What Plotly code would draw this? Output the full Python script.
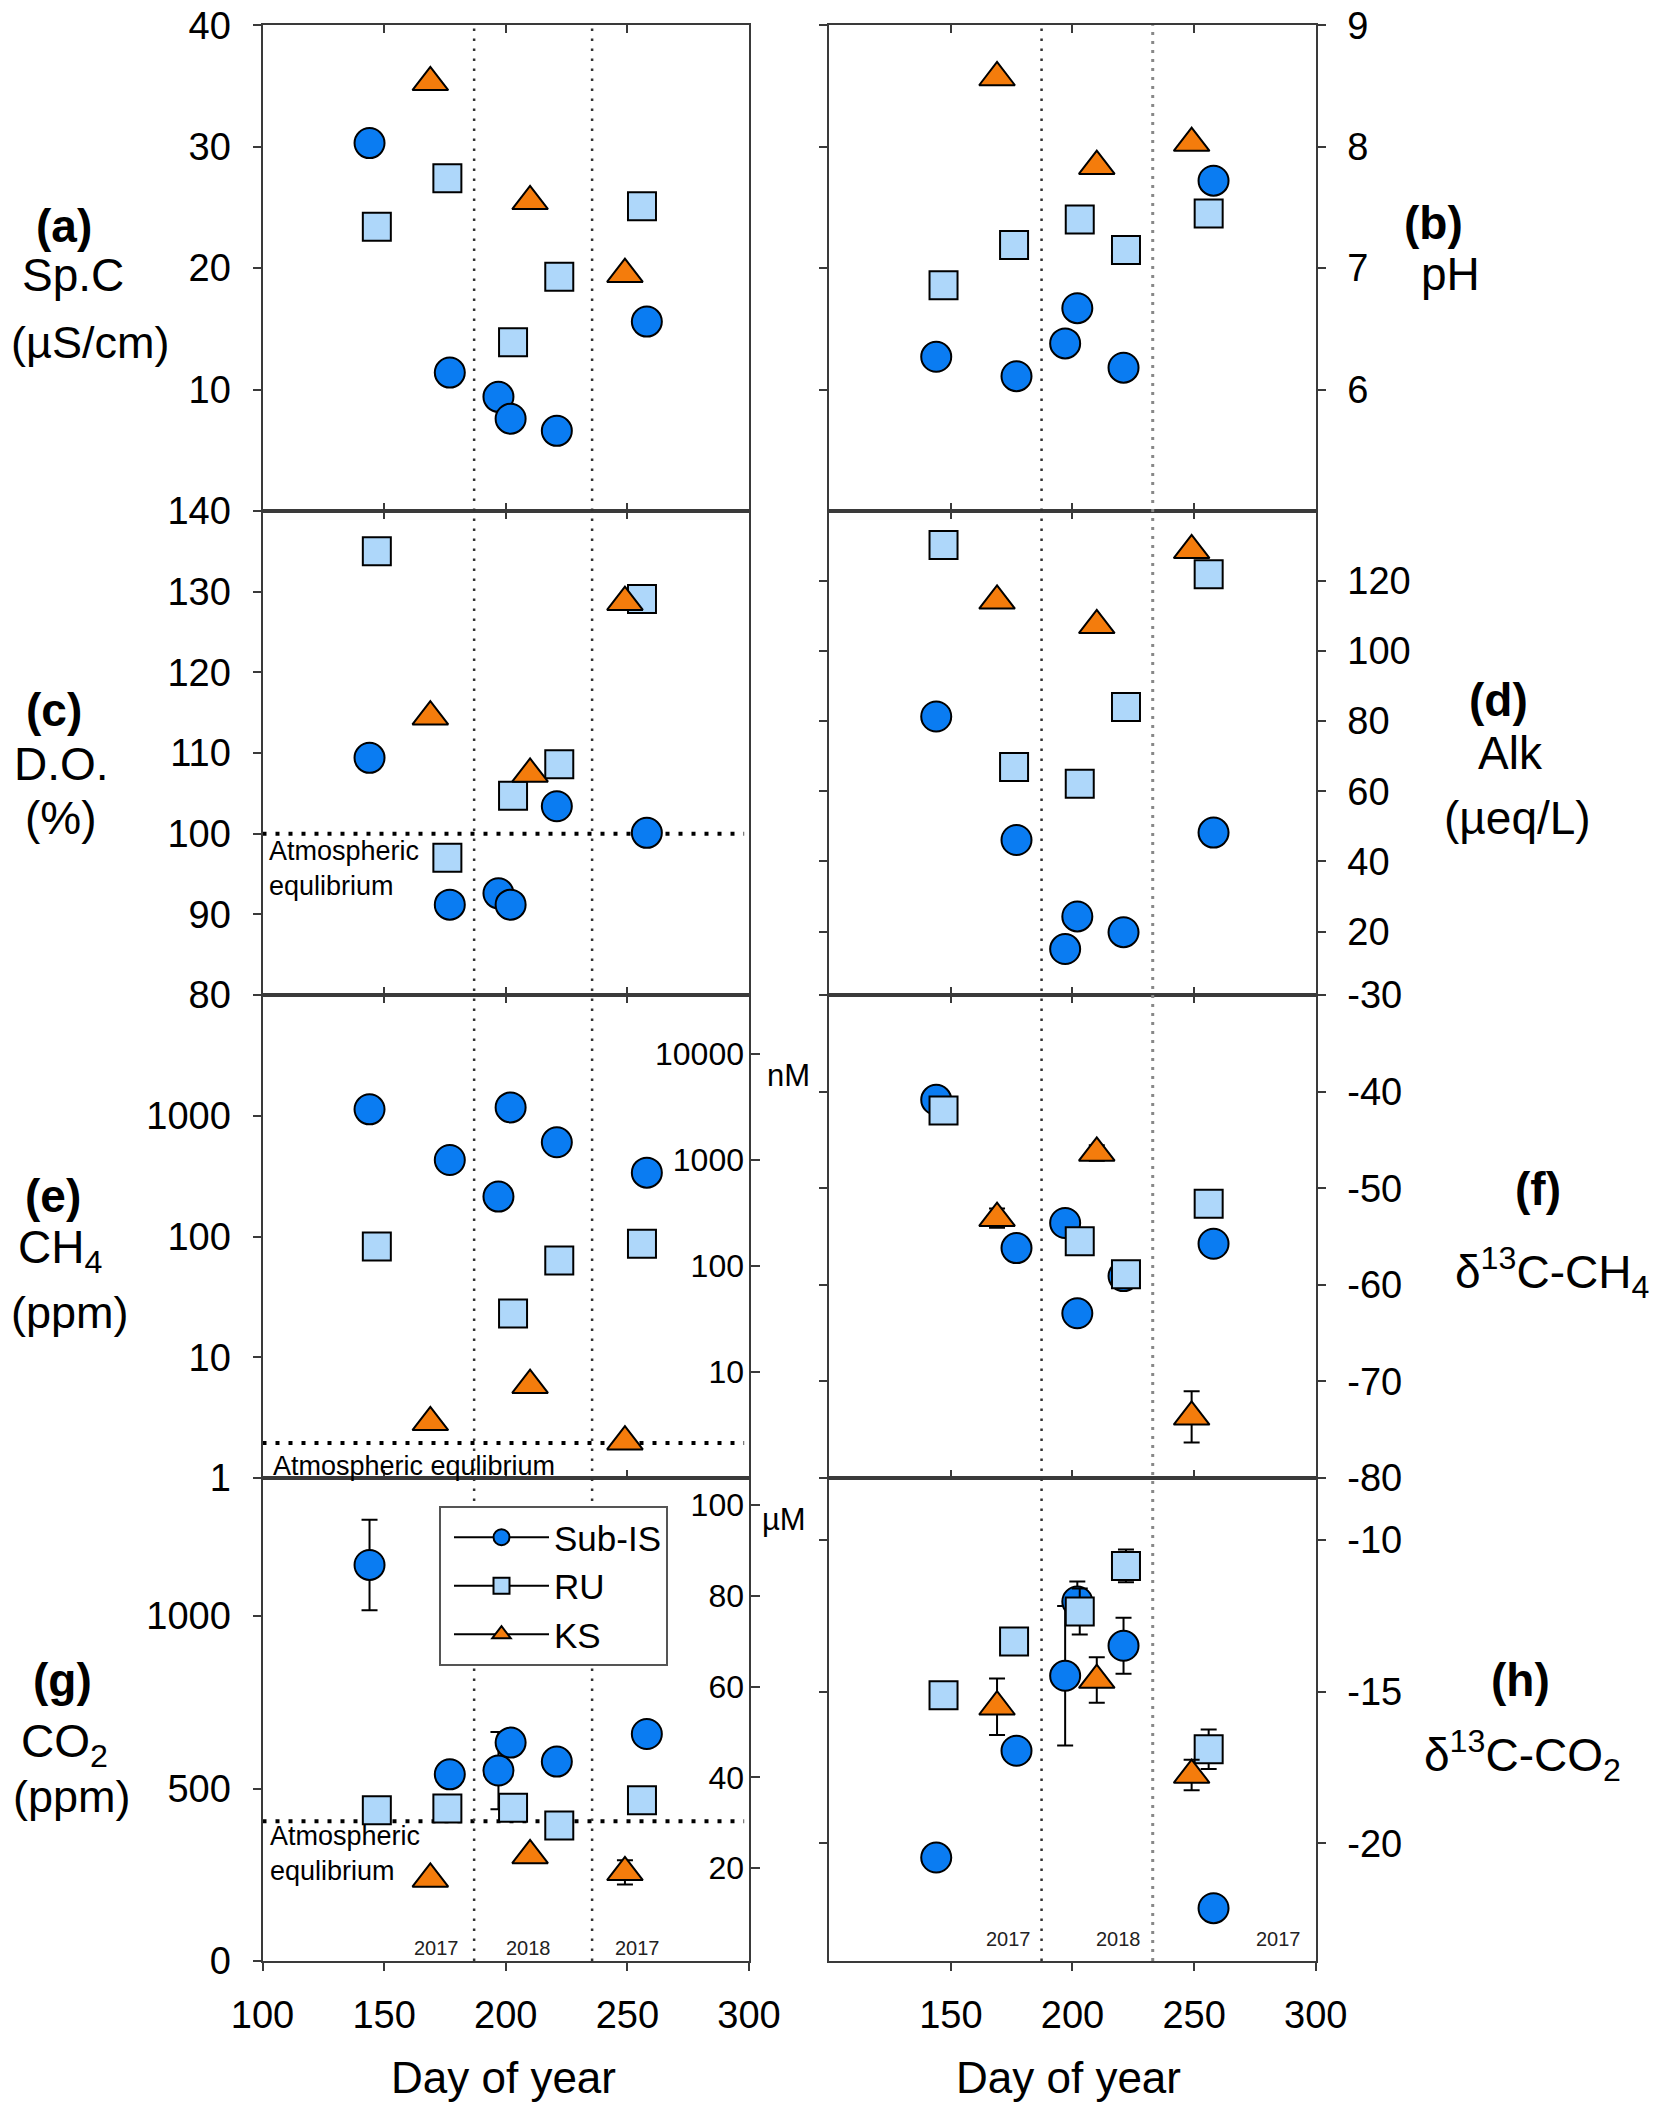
import plotly.graph_objects as go

W, H = 1679, 2120
PAD = 8  # browser body margin

# ---------------- data ----------------
days_sub = [144, 177, 197, 202, 221, 258]
days_ru = [147, 176, 203, 222, 256]
days_ks = [169, 210, 249]

spc_sub = [30.3, 11.4, 9.4, 7.6, 6.6, 15.6]
spc_ru = [23.4, 27.4, 13.9, 19.3, 25.1]
spc_ks = [35.3, 25.5, 19.5]

ph_sub = [6.27, 6.11, 6.38, 6.67, 6.18, 7.72]
ph_ru = [6.86, 7.19, 7.40, 7.15, 7.45]
ph_ks = [8.57, 7.84, 8.03]

do_sub = [109.4, 91.2, 92.6, 91.2, 103.4, 100.1]
do_ru = [135.0, 97.0, 104.7, 108.6, 129.1]
do_ks = [114.5, 107.4, 128.7]

alk_sub = [81.3, 46.1, 15.0, 24.3, 19.8, 48.2]
alk_ru = [130.2, 66.9, 62.1, 84.0, 121.9]
alk_ks = [114.3, 107.3, 128.7]

ch4_sub = [1130, 430, 214, 1173, 603, 338]
ch4_ru = [82.6, None, 23.0, 63.4, 87.0]
ch4_ks = [2.89, 5.87, 2.0]

dch4_sub = [-40.85, -56.2, -53.6, -62.95, -59.1, -55.75]
dch4_ru = [-41.95, None, -55.5, -58.9, -51.6]
dch4_ks = [-53.1, -46.35, -73.67]
dch4_ks_err = [1.0, 0.8, 2.66]

co2_sub = [1148, 541, 552, 633, 578, 658]
co2_sub_err = [131, None, 112, None, None, None]
co2_ru = [437, 442, 444, 393, 466]
co2_ks = [238, 306, 257]
co2_ks_err = [10, 10, 35]

dco2_sub = [-20.47, -16.95, -14.48, -12.03, -13.49, -22.14]
dco2_sub_err = [None, None, 2.3, 0.66, 0.92, None]
dco2_ru = [-15.12, -13.35, -12.36, -10.86, -16.9]
dco2_ru_err = [None, None, 0.76, 0.54, 0.65]
dco2_ks = [-15.5, -14.62, -17.75]
dco2_ks_err = [0.93, 0.75, 0.5]

atm_x = [100, 298]
atm_do = 100
atm_ch4 = 1.95
atm_co2 = 405

year_breaks_left = [187, 235.5]
year_breaks_right = [187.3, 233]

x_ticks_left = [100, 150, 200, 250, 300]
x_ticks_right = [150, 200, 250, 300]

# ---------------- layout helpers ----------------
FW, FH = W - 2 * PAD, H - 2 * PAD

def fx(p):
    return (p - PAD) / FW

def fy(p):
    return 1 - (p - PAD) / FH

XL = [fx(262.5), fx(749)]
XR = [fx(829.2), fx(1315.7)]
ROW_PX = [(25.3, 511), (511, 995), (995, 1478), (1478, 1961)]
ROWS = [[fy(b), fy(t)] for t, b in ROW_PX]

FONT = "Liberation Sans, Arial, sans-serif"
AXC = "#3a3a3a"

SUB = dict(symbol="circle", size=30, color="#0A7CF2", line=dict(color="black", width=2))
RU = dict(symbol="square", size=28, color="#AED7FA", line=dict(color="black", width=2))
KS = dict(symbol="triangle-up", size=31, color="#F47C0C", line=dict(color="black", width=2))

def err(arr):
    if arr is None:
        return None
    return dict(type="data", array=arr, visible=True, color="black", thickness=2, width=8)

fig = go.Figure()

panels = [
    (1, 0, 0, spc_sub, spc_ru, spc_ks, (None, None, None)),
    (2, 1, 0, ph_sub, ph_ru, ph_ks, (None, None, None)),
    (3, 0, 1, do_sub, do_ru, do_ks, (None, None, None)),
    (4, 1, 1, alk_sub, alk_ru, alk_ks, (None, None, None)),
    (5, 0, 2, ch4_sub, ch4_ru, ch4_ks, (None, None, None)),
    (6, 1, 2, dch4_sub, dch4_ru, dch4_ks, (None, None, dch4_ks_err)),
    (7, 0, 3, co2_sub, co2_ru, co2_ks, (co2_sub_err, None, co2_ks_err)),
    (8, 1, 3, dco2_sub, dco2_ru, dco2_ks, (dco2_sub_err, dco2_ru_err, dco2_ks_err)),
]

def axn(i):
    return ("x" if i == 1 else f"x{i}"), ("y" if i == 1 else f"y{i}")

# atmospheric equilibrium lines
for i, val in [(3, atm_do), (5, atm_ch4), (7, atm_co2)]:
    xa, ya = axn(i)
    fig.add_trace(go.Scatter(x=atm_x, y=[val, val], mode="lines", xaxis=xa, yaxis=ya,
                             line=dict(color="black", width=4, dash="4px,9px"),
                             showlegend=False, hoverinfo="skip"))

for i, col, row, s, r, k, (es, er, ek) in panels:
    xa, ya = axn(i)
    fig.add_trace(go.Scatter(x=days_sub, y=s, mode="markers", marker=SUB, error_y=err(es),
                             xaxis=xa, yaxis=ya, showlegend=False, name="Sub-IS"))
    fig.add_trace(go.Scatter(x=days_ru, y=r, mode="markers", marker=RU, error_y=err(er),
                             xaxis=xa, yaxis=ya, showlegend=False, name="RU"))
    fig.add_trace(go.Scatter(x=days_ks, y=k, mode="markers", marker=KS, error_y=err(ek),
                             xaxis=xa, yaxis=ya, showlegend=False, name="KS"))

# legend entries
for name, m in [("Sub-IS", SUB), ("RU", RU), ("KS", KS)]:
    fig.add_trace(go.Scatter(x=[None], y=[None], mode="lines+markers", name=name,
                             marker=m, line=dict(color="black", width=2),
                             xaxis="x7", yaxis="y7", showlegend=True))

# secondary axes holders
fig.add_trace(go.Scatter(x=[None], y=[None], xaxis="x5", yaxis="y9", showlegend=False, hoverinfo="skip"))
fig.add_trace(go.Scatter(x=[None], y=[None], xaxis="x7", yaxis="y10", showlegend=False, hoverinfo="skip"))

def lab(vals):
    return [str(v) for v in vals]

y_specs = {
    1: dict(range=[0, 40], tickvals=[10, 20, 30, 40]),
    2: dict(range=[5, 9], tickvals=[6, 7, 8, 9]),
    3: dict(range=[80, 140], tickvals=[80, 90, 100, 110, 120, 130, 140]),
    4: dict(range=[1.9, 139.9], tickvals=[20, 40, 60, 80, 100, 120]),
    5: dict(type="log", range=[0, 4], tickvals=[1, 10, 100, 1000]),
    6: dict(range=[-80, -30], tickvals=[-30, -40, -50, -60, -70, -80]),
    7: dict(range=[0, 1400], tickvals=[0, 500, 1000]),
    8: dict(range=[-23.88, -7.96], tickvals=[-10, -15, -20]),
}
for k_, v_ in y_specs.items():
    v_["ticktext"] = lab(v_["tickvals"])

layout = dict(
    width=FW, height=FH, margin=dict(l=0, r=0, t=0, b=0, autoexpand=False),
    paper_bgcolor="white", plot_bgcolor="white",
    font=dict(family=FONT, color="black", size=38),
    showlegend=True,
    legend=dict(x=fx(439), y=fy(1506), xanchor="left", yanchor="top",
                bgcolor="white", bordercolor="#555", borderwidth=2,
                font=dict(size=35, family=FONT), itemwidth=95, indentation=8,
                itemsizing="trace", tracegroupgap=0),
)

for i, col, row, *_ in panels:
    xa, ya = axn(i)
    xkey = "xaxis" if i == 1 else f"xaxis{i}"
    ykey = "yaxis" if i == 1 else f"yaxis{i}"
    bottom = row == 3
    xt = x_ticks_left if col == 0 else x_ticks_right
    layout[xkey] = dict(
        domain=XL if col == 0 else XR, anchor=ya, range=[100, 300],
        tickvals=xt, ticktext=lab(xt), showticklabels=bottom,
        ticks="outside" if bottom else "inside", ticklen=8, tickwidth=2, tickcolor=AXC,
        showline=True, linecolor=AXC, linewidth=2,
        mirror=True if bottom else "ticks",
        showgrid=False, zeroline=False, ticklabelstandoff=11, automargin=False,
        ticklabeloverflow="allow", tickfont=dict(size=38),
    )
    spec = y_specs[i]
    yd = dict(
        domain=ROWS[row], anchor=xa, side="left" if col == 0 else "right",
        ticks="outside", ticklen=8, tickwidth=2, tickcolor=AXC,
        showline=True, linecolor=AXC, linewidth=2,
        mirror=True if col == 0 else "ticks",
        showgrid=False, zeroline=False, ticklabelstandoff=14, automargin=False,
        ticklabeloverflow="allow", tickfont=dict(size=38),
    )
    yd.update(spec)
    layout[ykey] = yd

# concentration axes drawn on the right spine of panels (e) and (g)
layout["yaxis9"] = dict(
    overlaying="y5", anchor="free", position=XL[1], side="left", type="log", range=[0, 4.556],
    tickvals=[10, 100, 1000, 10000], ticktext=["10", "100", "1000", "10000"],
    ticks="inside", ticklen=10, tickwidth=2, tickcolor=AXC,
    ticklabelstandoff=5, automargin=False, ticklabeloverflow="allow",
    showline=False, showgrid=False, zeroline=False, tickfont=dict(size=32),
)
layout["yaxis10"] = dict(
    overlaying="y7", anchor="free", position=XL[1], side="left", range=[-0.5, 106],
    tickvals=[20, 40, 60, 80, 100], ticktext=["20", "40", "60", "80", "100"],
    ticks="inside", ticklen=10, tickwidth=2, tickcolor=AXC,
    ticklabelstandoff=5, automargin=False, ticklabeloverflow="allow",
    showline=False, showgrid=False, zeroline=False, tickfont=dict(size=32),
)

fig.update_layout(**layout)

# year separation lines
shapes = []
for xv in year_breaks_left:
    shapes.append(dict(type="line", xref="x", yref="paper", x0=xv, x1=xv,
                       y0=ROWS[3][0], y1=ROWS[0][1], layer="above",
                       line=dict(color="#333", width=2.5, dash="2.5px,7.5px")))
for j, xv in enumerate(year_breaks_right):
    shapes.append(dict(type="line", xref="x2", yref="paper", x0=xv, x1=xv,
                       y0=ROWS[3][0], y1=ROWS[0][1], layer="above",
                       line=dict(color="#333" if j == 0 else "#888", width=2.5 if j == 0 else 3,
                                 dash="2.5px,7.5px" if j == 0 else "3px,6px")))
fig.update_layout(shapes=shapes)

ann = []
def txt(x, y, t, size=46, xanchor="center", yanchor="middle", align="center", color="black"):
    ann.append(dict(x=fx(x), y=fy(y), xref="paper", yref="paper", text=t, showarrow=False,
                    xanchor=xanchor, yanchor=yanchor, align=align,
                    font=dict(size=size, family=FONT, color=color)))

# panel labels
txt(64, 226, "<b>(a)</b>"); txt(73, 275, "Sp.C"); txt(90, 342, "(µS/cm)", size=45)
txt(1433, 223, "<b>(b)</b>"); txt(1450, 274, "pH")
txt(54, 710, "<b>(c)</b>"); txt(61, 764, "D.O."); txt(61, 818, "(%)")
txt(1498, 700, "<b>(d)</b>"); txt(1510, 753, "Alk"); txt(1517, 818, "(µeq/L)")
txt(53, 1196, "<b>(e)</b>"); txt(60, 1250, "CH<sub>4</sub>"); txt(70, 1312, "(ppm)", size=45)
txt(1538, 1189, "<b>(f)</b>"); txt(1552, 1272, "δ<sup>13</sup>C-CH<sub>4</sub>")
txt(62, 1680, "<b>(g)</b>"); txt(64, 1744, "CO<sub>2</sub>"); txt(72, 1796, "(ppm)", size=45)
txt(1520, 1680, "<b>(h)</b>"); txt(1522, 1755, "δ<sup>13</sup>C-CO<sub>2</sub>")

# axis titles
txt(503, 2077, "Day of year", size=44)
txt(1068, 2077, "Day of year", size=44)

# secondary axis units
txt(765, 1075, "nM", size=31, xanchor="left")
txt(760, 1519, "µM", size=31, xanchor="left")

# atmospheric labels
txt(267, 869, "Atmospheric<br>equlibrium", size=27, xanchor="left", align="left")
txt(271, 1466, "Atmospheric equlibrium", size=27, xanchor="left", align="left")
txt(268, 1853, "Atmospheric<br>equlibrium", size=27, xanchor="left", align="left")

# year labels
for xp, t in [(437, "2017"), (528, "2018"), (637, "2017")]:
    txt(xp, 1948, t, size=20, color="#222")
for xp, t in [(1008, "2017"), (1118, "2018"), (1278, "2017")]:
    txt(xp, 1939, t, size=20, color="#222")

fig.update_layout(annotations=ann)

fig.write_html("out.html")
